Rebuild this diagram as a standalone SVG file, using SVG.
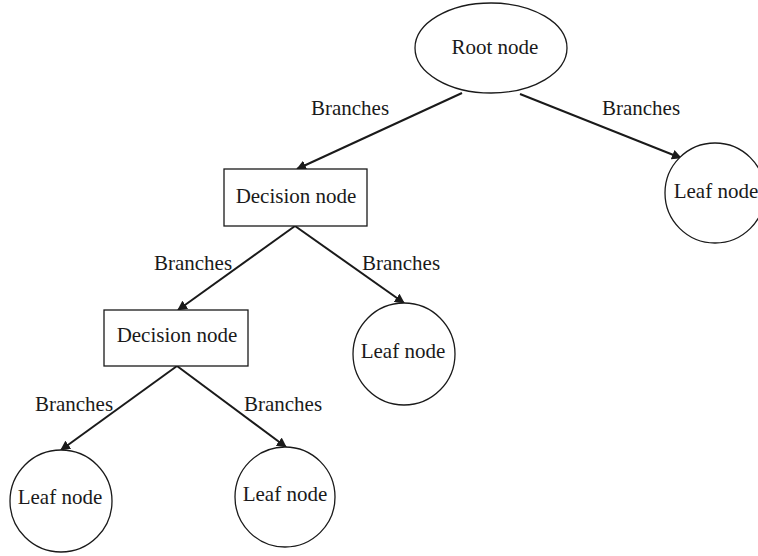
<svg xmlns="http://www.w3.org/2000/svg" width="758" height="556" viewBox="0 0 758 556">
  <style>
    .shape { fill: #ffffff; stroke: #1a1a1a; stroke-width: 1.3; }
    .lbl { font-family: "Liberation Serif", "Times New Roman", serif; font-size: 21px; fill: #1a1a1a; text-anchor: middle; }
    .edge { stroke: #1a1a1a; stroke-width: 2; fill: none; marker-end: url(#arrow); }
  </style>
  <defs>
    <marker id="arrow" viewBox="0 0 10 10" refX="9" refY="5" markerWidth="5" markerHeight="5" orient="auto" markerUnits="strokeWidth">
      <path d="M0,0 L10,5 L0,10 z" fill="#1a1a1a"/>
    </marker>
  </defs>
  <rect width="758" height="556" fill="#ffffff"/>

  <g id="connectors">
    <line class="edge" x1="462" y1="93" x2="297" y2="169"/>
    <line class="edge" x1="520" y1="94" x2="681" y2="158"/>
    <line class="edge" x1="295" y1="226" x2="178" y2="310"/>
    <line class="edge" x1="295" y1="226" x2="404" y2="303"/>
    <line class="edge" x1="177" y1="366" x2="61" y2="450"/>
    <line class="edge" x1="177" y1="366" x2="286" y2="447"/>
    <text class="lbl" x="350" y="115">Branches</text>
    <text class="lbl" x="641" y="115">Branches</text>
    <text class="lbl" x="193" y="270">Branches</text>
    <text class="lbl" x="401" y="270">Branches</text>
    <text class="lbl" x="74" y="411">Branches</text>
    <text class="lbl" x="283" y="411">Branches</text>
  </g>

  <g id="root">
    <ellipse class="shape" cx="491" cy="48" rx="76" ry="45"/>
    <text class="lbl" x="495" y="54">Root node</text>
  </g>
  <g id="decision1">
    <rect class="shape" x="224" y="169" width="143" height="57"/>
    <text class="lbl" x="296" y="203">Decision node</text>
  </g>
  <g id="leaf-right">
    <circle class="shape" cx="715" cy="193" r="50"/>
    <text class="lbl" x="716" y="198">Leaf node</text>
  </g>
  <g id="decision2">
    <rect class="shape" x="104" y="310" width="144" height="56"/>
    <text class="lbl" x="177" y="342">Decision node</text>
  </g>
  <g id="leaf-mid">
    <circle class="shape" cx="404" cy="354" r="51"/>
    <text class="lbl" x="403" y="358">Leaf node</text>
  </g>
  <g id="leaf-left">
    <circle class="shape" cx="61" cy="501" r="51"/>
    <text class="lbl" x="60" y="504">Leaf node</text>
  </g>
  <g id="leaf-bottom">
    <circle class="shape" cx="285" cy="497" r="50"/>
    <text class="lbl" x="285" y="501">Leaf node</text>
  </g>
</svg>
